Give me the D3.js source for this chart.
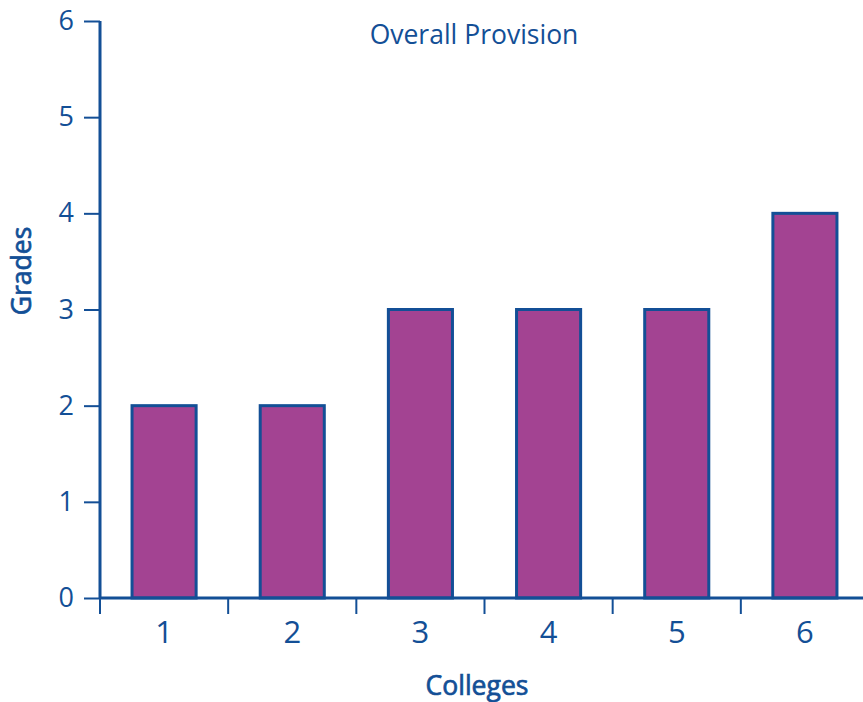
<!DOCTYPE html>
<html>
<head>
<meta charset="utf-8">
<script src="https://cdn.jsdelivr.net/npm/d3@7"></script>
<style>
  html, body { margin: 0; padding: 0; background: #fff; }
  svg { display: block; }
  text { font-family: "Open Sans", "Noto Sans", sans-serif; fill: #134f96; }
</style>
</head>
<body>
<svg id="chart" width="863" height="702"></svg>
<script>
// College grades for overall provision
const colleges = ["1", "2", "3", "4", "5", "6"];
const grades = [2, 2, 3, 3, 3, 4];
const yTicks = [0, 1, 2, 3, 4, 5, 6];

const ink = "#134f96";
const barFill = "#a34392";

const svg = d3.select("#chart");
const plotLeft = 100, plotRight = 869, plotTop = 21, plotBottom = 598;

const x = d3.scaleBand().domain(colleges).range([plotLeft, plotRight]).paddingInner(0).paddingOuter(0);
const y = d3.scaleLinear().domain([0, 6]).range([plotBottom, plotTop]);

// Bars: half the band width, centred in each band
svg.append("g").selectAll("rect")
  .data(colleges)
  .join("rect")
  .attr("x", (d) => x(d) + x.bandwidth() * 0.25)
  .attr("width", x.bandwidth() * 0.5)
  .attr("y", (d, i) => y(grades[i]))
  .attr("height", (d, i) => y(0) - y(grades[i]))
  .attr("fill", barFill)
  .attr("stroke", ink)
  .attr("stroke-width", 3);

// Y axis
const yAxis = svg.append("g").attr("transform", `translate(${plotLeft},0)`)
  .call(d3.axisLeft(y).tickValues(yTicks).tickSize(16).tickPadding(10).tickFormat(d3.format("d")));
yAxis.select(".domain").attr("stroke", ink).attr("stroke-width", 3).attr("d", `M0,${plotTop}V${plotBottom}`);
yAxis.selectAll(".tick line").attr("stroke", ink).attr("stroke-width", 2);
yAxis.selectAll(".tick text").attr("fill", ink).style("font-size", "27px")
  .style("font-family", "'Open Sans', 'Noto Sans', sans-serif");

// X axis: tick marks at band boundaries, labels at band centres
const xAxisG = svg.append("g").attr("transform", `translate(0,${plotBottom})`);
xAxisG.append("line").attr("x1", plotLeft).attr("x2", 863).attr("y1", 0).attr("y2", 0)
  .attr("stroke", ink).attr("stroke-width", 3);
xAxisG.selectAll("line.tick")
  .data(colleges)
  .join("line")
  .attr("class", "tick")
  .attr("x1", (d) => x(d)).attr("x2", (d) => x(d))
  .attr("y1", 0).attr("y2", 16)
  .attr("stroke", ink).attr("stroke-width", 2);
xAxisG.selectAll("text")
  .data(colleges)
  .join("text")
  .attr("x", (d) => x(d) + x.bandwidth() / 2)
  .attr("y", 45)
  .attr("text-anchor", "middle")
  .style("font-size", "31px")
  .text((d) => d);

// Titles
svg.append("text").attr("x", 474).attr("y", 44).attr("text-anchor", "middle")
  .style("font-size", "26.5px").text("Overall Provision");
svg.append("text").attr("x", 477).attr("y", 695).attr("text-anchor", "middle")
  .style("font-size", "26.5px").attr("stroke", ink).attr("stroke-width", 0.7).text("Colleges");
svg.append("text").attr("transform", "translate(31,271) rotate(-90)").attr("text-anchor", "middle")
  .style("font-size", "26.5px").attr("stroke", ink).attr("stroke-width", 0.7).text("Grades");
</script>
</body>
</html>
